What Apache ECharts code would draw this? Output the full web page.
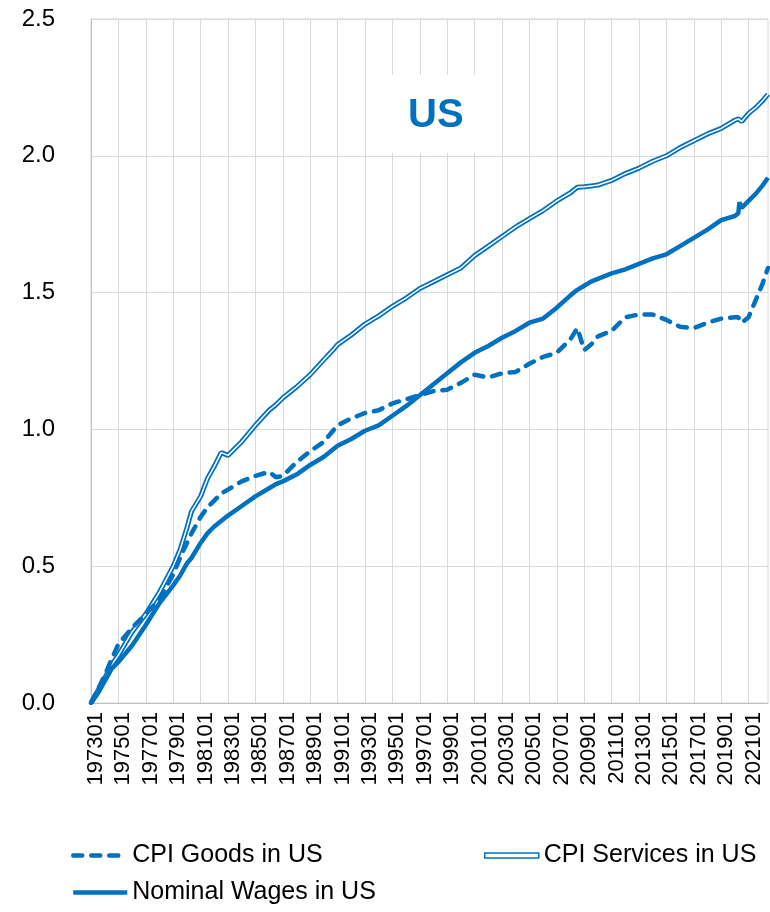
<!DOCTYPE html>
<html>
<head>
<meta charset="utf-8">
<script src="https://cdn.jsdelivr.net/npm/echarts@6/dist/echarts.min.js"></script>
<style>
	html, body { margin: 0; padding: 0; background: #fff; }
	#chart { width: 770px; height: 912px; }
</style>
</head>
<body>
<div id="chart"></div>
<script>
// monthly category axis 197301 .. 202206
const startYear = 1973;
const endYear = 2022;
const endMonth = 6;
const months = [];
for (let y = startYear; y <= endYear; y++) {
	for (let m = 1; m <= 12; m++) {
		if (y === endYear && m > endMonth) break;
		months.push(String(y) + (m < 10 ? '0' + m : String(m)));
	}
}

const sampleMonths = ['197301','197307','197401','197407','197501','197601','197701','197801','197901','197907',
	'198001','198005','198101','198107','198201','198207','198301','198401','198501','198601','198607','198701',
	'198801','198901','199001','199010','199101','199201','199301','199401','199501','199601','199701','199801',
	'199901','200001','200101','200201','200301','200401','200501','200601','200701','200801','200807','200901',
	'200907','201001','201101','201201','201301','201401','201501','201601','201701','201801','201901','202001',
	'202004','202005','202007','202101','202107','202201','202206'];

const cpiGoods = [0, 0.05, 0.10, 0.16, 0.215, 0.275, 0.325, 0.38, 0.47, 0.53,
	0.585, 0.62, 0.68, 0.715, 0.74, 0.765, 0.78, 0.81, 0.83, 0.845, 0.825, 0.83,
	0.88, 0.92, 0.955, 1.0, 1.015, 1.04, 1.06, 1.07, 1.095, 1.11, 1.125, 1.14,
	1.145, 1.17, 1.20, 1.19, 1.205, 1.21, 1.24, 1.265, 1.28, 1.33, 1.37, 1.29,
	1.31, 1.34, 1.36, 1.41, 1.42, 1.42, 1.40, 1.375, 1.37, 1.39, 1.405, 1.41,
	1.41, 1.40, 1.39, 1.41, 1.47, 1.53, 1.59];

const cpiServices = [0, 0.045, 0.09, 0.14, 0.175, 0.26, 0.325, 0.405, 0.50, 0.56,
	0.64, 0.70, 0.755, 0.82, 0.865, 0.915, 0.905, 0.955, 1.015, 1.07, 1.09, 1.115,
	1.155, 1.20, 1.255, 1.295, 1.31, 1.345, 1.385, 1.415, 1.45, 1.48, 1.515, 1.54,
	1.565, 1.59, 1.635, 1.67, 1.705, 1.74, 1.77, 1.80, 1.835, 1.865, 1.885, 1.887,
	1.89, 1.893, 1.91, 1.935, 1.955, 1.98, 2.0, 2.03, 2.055, 2.08, 2.10, 2.13,
	2.135, 2.13, 2.125, 2.155, 2.175, 2.20, 2.225];

const nominalWages = [0, 0.035, 0.08, 0.125, 0.15, 0.21, 0.285, 0.365, 0.43, 0.465,
	0.51, 0.53, 0.585, 0.62, 0.645, 0.665, 0.685, 0.72, 0.755, 0.785, 0.80, 0.81,
	0.835, 0.87, 0.90, 0.93, 0.94, 0.965, 0.995, 1.015, 1.05, 1.085, 1.125, 1.165,
	1.205, 1.245, 1.28, 1.305, 1.335, 1.36, 1.39, 1.405, 1.445, 1.49, 1.51, 1.525,
	1.54, 1.55, 1.57, 1.585, 1.605, 1.625, 1.64, 1.67, 1.70, 1.73, 1.765, 1.78,
	1.79, 1.83, 1.81, 1.835, 1.86, 1.89, 1.92];

const yTicks = [0, 0.5, 1.0, 1.5, 2.0, 2.5];

const blue = '#0070C0';
const font = 'Liberation Sans';

function pairs(values) {
	return sampleMonths.map((m, i) => [m, values[i]]);
}

const legendBase = {
	itemWidth: 54, itemHeight: 5, itemGap: 6,
	textStyle: { fontSize: 25, color: '#000', fontFamily: font }
};

const chart = echarts.init(document.getElementById('chart'));
chart.setOption({
	animation: false,
	title: {
		text: 'US',
		left: 386,
		top: 75,
		padding: [21, 22, 17, 22],
		backgroundColor: '#fff',
		textStyle: { color: blue, fontSize: 40, fontWeight: 'bold', fontFamily: font }
	},
	grid: {
		left: 91, right: 2, top: 19, bottom: 209,
		show: true, borderColor: '#d9d9d9', borderWidth: 1
	},
	legend: [
		Object.assign({}, legendBase, {
			data: ['CPI Goods in US'], left: 66, top: 838,
			itemStyle: { opacity: 0 }, lineStyle: { width: 4.5 }
		}),
		Object.assign({}, legendBase, {
			data: [{ name: 'CPI Services in US', icon: 'rect',
				itemStyle: { color: '#fff', borderColor: blue, borderWidth: 1.5 } }],
			left: 479, top: 838
		}),
		Object.assign({}, legendBase, {
			data: ['Nominal Wages in US'], left: 66, top: 875,
			itemStyle: { opacity: 0 }, lineStyle: { width: 4.5 }
		})
	],
	xAxis: {
		type: 'category',
		data: months,
		boundaryGap: false,
		axisLine: { lineStyle: { color: '#bfbfbf', width: 1 } },
		axisTick: { show: false },
		axisLabel: {
			interval: 23, rotate: 90, margin: 9,
			fontSize: 22, color: '#000', fontFamily: font,
			verticalAlign: 'top', lineHeight: 10
		},
		splitLine: { show: true, interval: 23, lineStyle: { color: '#d9d9d9', width: 1 } }
	},
	yAxis: {
		type: 'value',
		min: yTicks[0], max: yTicks[yTicks.length - 1], interval: 0.5,
		axisLine: { show: true, lineStyle: { color: '#bfbfbf', width: 1 } },
		axisTick: { show: false },
		axisLabel: {
			margin: 36, fontSize: 24, color: '#000', fontFamily: font,
			formatter: v => v.toFixed(1)
		},
		splitLine: { lineStyle: { color: '#d9d9d9', width: 1 } }
	},
	series: [
		{
			name: 'CPI Services in US', type: 'line', showSymbol: false, symbol: 'none',
			data: pairs(cpiServices),
			lineStyle: { color: blue, width: 5 }, itemStyle: { color: blue }, z: 2
		},
		{
			name: 'services-inner', type: 'line', showSymbol: false, symbol: 'none',
			data: pairs(cpiServices), silent: true,
			lineStyle: { color: '#fff', width: 1.5 }, z: 3
		},
		{
			name: 'CPI Goods in US', type: 'line', showSymbol: false, symbol: 'none',
			data: pairs(cpiGoods),
			lineStyle: { color: blue, width: 4.5, type: [9, 9], cap: 'round' }, itemStyle: { color: blue }, z: 4
		},
		{
			name: 'Nominal Wages in US', type: 'line', showSymbol: false, symbol: 'none',
			data: pairs(nominalWages),
			lineStyle: { color: blue, width: 4.5 }, itemStyle: { color: blue }, z: 5
		}
	]
});
window.addEventListener('resize', () => chart.resize());
</script>
</body>
</html>
